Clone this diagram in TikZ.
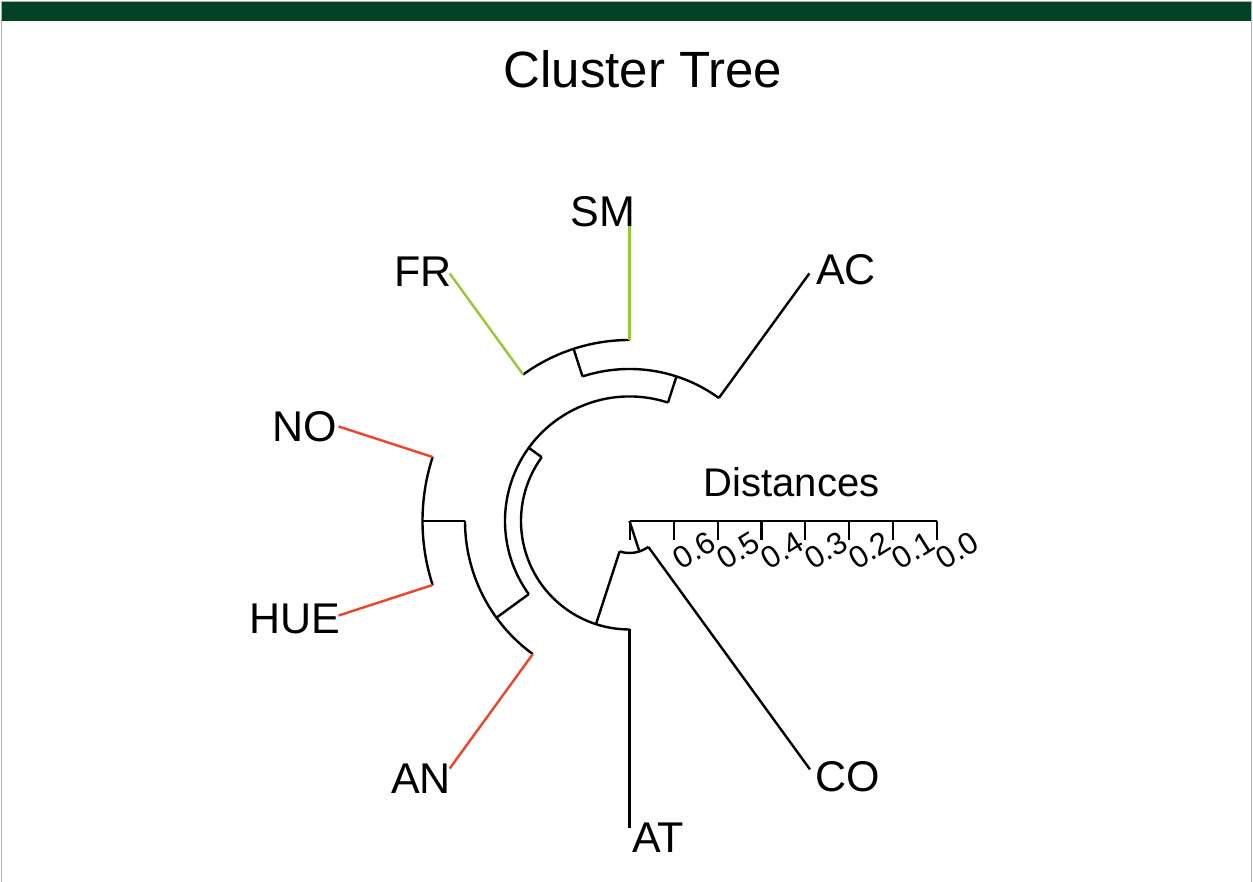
\documentclass[tikz,border=0pt]{standalone}
\usepackage{fontspec}
\setmainfont{Liberation Sans}
\usetikzlibrary{calc}
\definecolor{bandgreen}{RGB}{3,65,36}
\definecolor{leafgreen}{RGB}{150,200,55}
\definecolor{leafred}{RGB}{238,68,40}
\definecolor{framegray}{RGB}{175,175,175}
\begin{document}
\begin{tikzpicture}[x=1pt,y=1pt,
  branch/.style={line width=2.4pt, black},
  greenleaf/.style={line width=2.4pt, leafgreen},
  redleaf/.style={line width=2.4pt, leafred},
  blackleaf/.style={line width=2.4pt, black},
  leaflabel/.style={inner sep=0pt, outer sep=0pt, font=\fontsize{43}{43}\selectfont},
  ticklabel/.style={inner sep=0pt, outer sep=0pt, anchor=base west, rotate=32, font=\fontsize{31}{31}\selectfont},
  axisline/.style={line width=2.2pt, black}]
\useasboundingbox (0,0) rectangle (1253,882);
\fill[white] (0,0) rectangle (1253,882);
% page frame and header band
\draw[framegray, line width=1pt] (1.5,0) -- (1.5,880.5) -- (1251.5,880.5) -- (1251.5,0);
\fill[bandgreen] (2,860.5) rectangle (1251,879.5);
% title
\node[inner sep=0pt, anchor=base, font=\fontsize{51}{51}\selectfont] (title) at (643,794) {Cluster Tree};

% ---------- fan dendrogram ----------
\begin{scope}[shift={(629.5,361)}]
  % leaf tips
  \coordinate (tipAC)  at (54:306);
  \coordinate (tipSM)  at (90:296);
  \coordinate (tipFR)  at (126:306);
  \coordinate (tipNO)  at (162:306);
  \coordinate (tipHUE) at (198:306);
  \coordinate (tipAN)  at (234:306);
  \coordinate (tipAT)  at (270:307);
  \coordinate (tipCO)  at (306:307);
  % inner ends of leaf branches
  \coordinate (baseAC)  at (54:152);
  \coordinate (baseSM)  at (90:181);
  \coordinate (baseFR)  at (126:181);
  \coordinate (baseNO)  at (162:207);
  \coordinate (baseHUE) at (198:207);
  \coordinate (baseAN)  at (234:164.5);
  \coordinate (baseAT)  at (270:108.5);
  \coordinate (baseCO)  at (306:32);
  % internal nodes and the feet of their stems
  \coordinate (nFS)    at (108:181);   \coordinate (nFSp)   at (108:152);
  \coordinate (nAFS)   at (72:152);    \coordinate (nAFSp)  at (72:124.5);
  \coordinate (nNH)    at (180:207);   \coordinate (nNHp)   at (180:164.5);
  \coordinate (nNHA)   at (216:164.5); \coordinate (nNHAp)  at (216:124.5);
  \coordinate (nBig)   at (144:124.5); \coordinate (nBigp)  at (144:108.5);
  \coordinate (nBT)    at (252:108.5); \coordinate (nBTp)   at (252:32);
  \coordinate (root)   at (288:32);    \coordinate (centre) at (0,0);

  % arcs joining siblings
  \draw[branch] (baseSM) arc[start angle=90, end angle=126, radius=181pt];
  \draw[branch] (baseAC) arc[start angle=54, end angle=108, radius=152pt];
  \draw[branch] (baseNO) arc[start angle=162, end angle=198, radius=207pt];
  \draw[branch] (nNHp) arc[start angle=180, end angle=234, radius=164.5pt];
  \draw[branch] (nAFSp) arc[start angle=72, end angle=216, radius=124.5pt];
  \draw[branch] (nBigp) arc[start angle=144, end angle=270, radius=108.5pt];
  \draw[branch] (nBTp) arc[start angle=252, end angle=306, radius=32pt];
  % stems of internal nodes
  \draw[branch] (nFS) -- (nFSp);
  \draw[branch] (nAFS) -- (nAFSp);
  \draw[branch] (nNH) -- (nNHp);
  \draw[branch] (nNHA) -- (nNHAp);
  \draw[branch] (nBig) -- (nBigp);
  \draw[branch] (nBT) -- (nBTp);
  \draw[branch] (root) -- (centre);
  % leaf branches
  \draw[blackleaf] (baseAC) -- (tipAC);
  \draw[greenleaf] (baseSM) -- (tipSM);
  \draw[greenleaf] (baseFR) -- (tipFR);
  \draw[redleaf] (baseNO) -- (tipNO);
  \draw[redleaf] (baseHUE) -- (tipHUE);
  \draw[redleaf] (baseAN) -- (tipAN);
  \draw[blackleaf] (baseAT) -- (tipAT);
  \draw[blackleaf] (baseCO) -- (tipCO);
\end{scope}

% leaf labels
\node[leaflabel, anchor=base east] (lSM)  at (635,655) {SM};
\node[leaflabel, anchor=base east] (lFR)  at (452,595) {FR};
\node[leaflabel, anchor=base west] (lAC)  at (816,597) {AC};
\node[leaflabel, anchor=base east] (lNO)  at (337,440) {NO};
\node[leaflabel, anchor=base east] (lHUE) at (340,248) {HUE};
\node[leaflabel, anchor=base east] (lAN)  at (451,88)  {AN};
\node[leaflabel, anchor=base west] (lCO)  at (815,90)  {CO};
\node[leaflabel, anchor=base west] (lAT)  at (632,29)  {AT};

% distance scale
\node[inner sep=0pt, anchor=base, font=\fontsize{40}{40}\selectfont] (dist) at (791.5,385) {Distances};
\coordinate (axL) at (630,361);
\coordinate (axR) at (936.6,361);
\draw[axisline] (axL) -- (axR);
\foreach \k in {0,...,7} {
  \coordinate (tk\k) at ($(axL)+(43.8*\k,0)$);
  \draw[axisline] (tk\k) -- ++(0,-19);
}
\foreach \k/\lab in {1/0.6,2/0.5,3/0.4,4/0.3,5/0.2,6/0.1,7/0.0} {
  \node[ticklabel] (tlab\k) at ($(tk\k)+(8,-50)$) {\lab};
}
\end{tikzpicture}
\end{document}
